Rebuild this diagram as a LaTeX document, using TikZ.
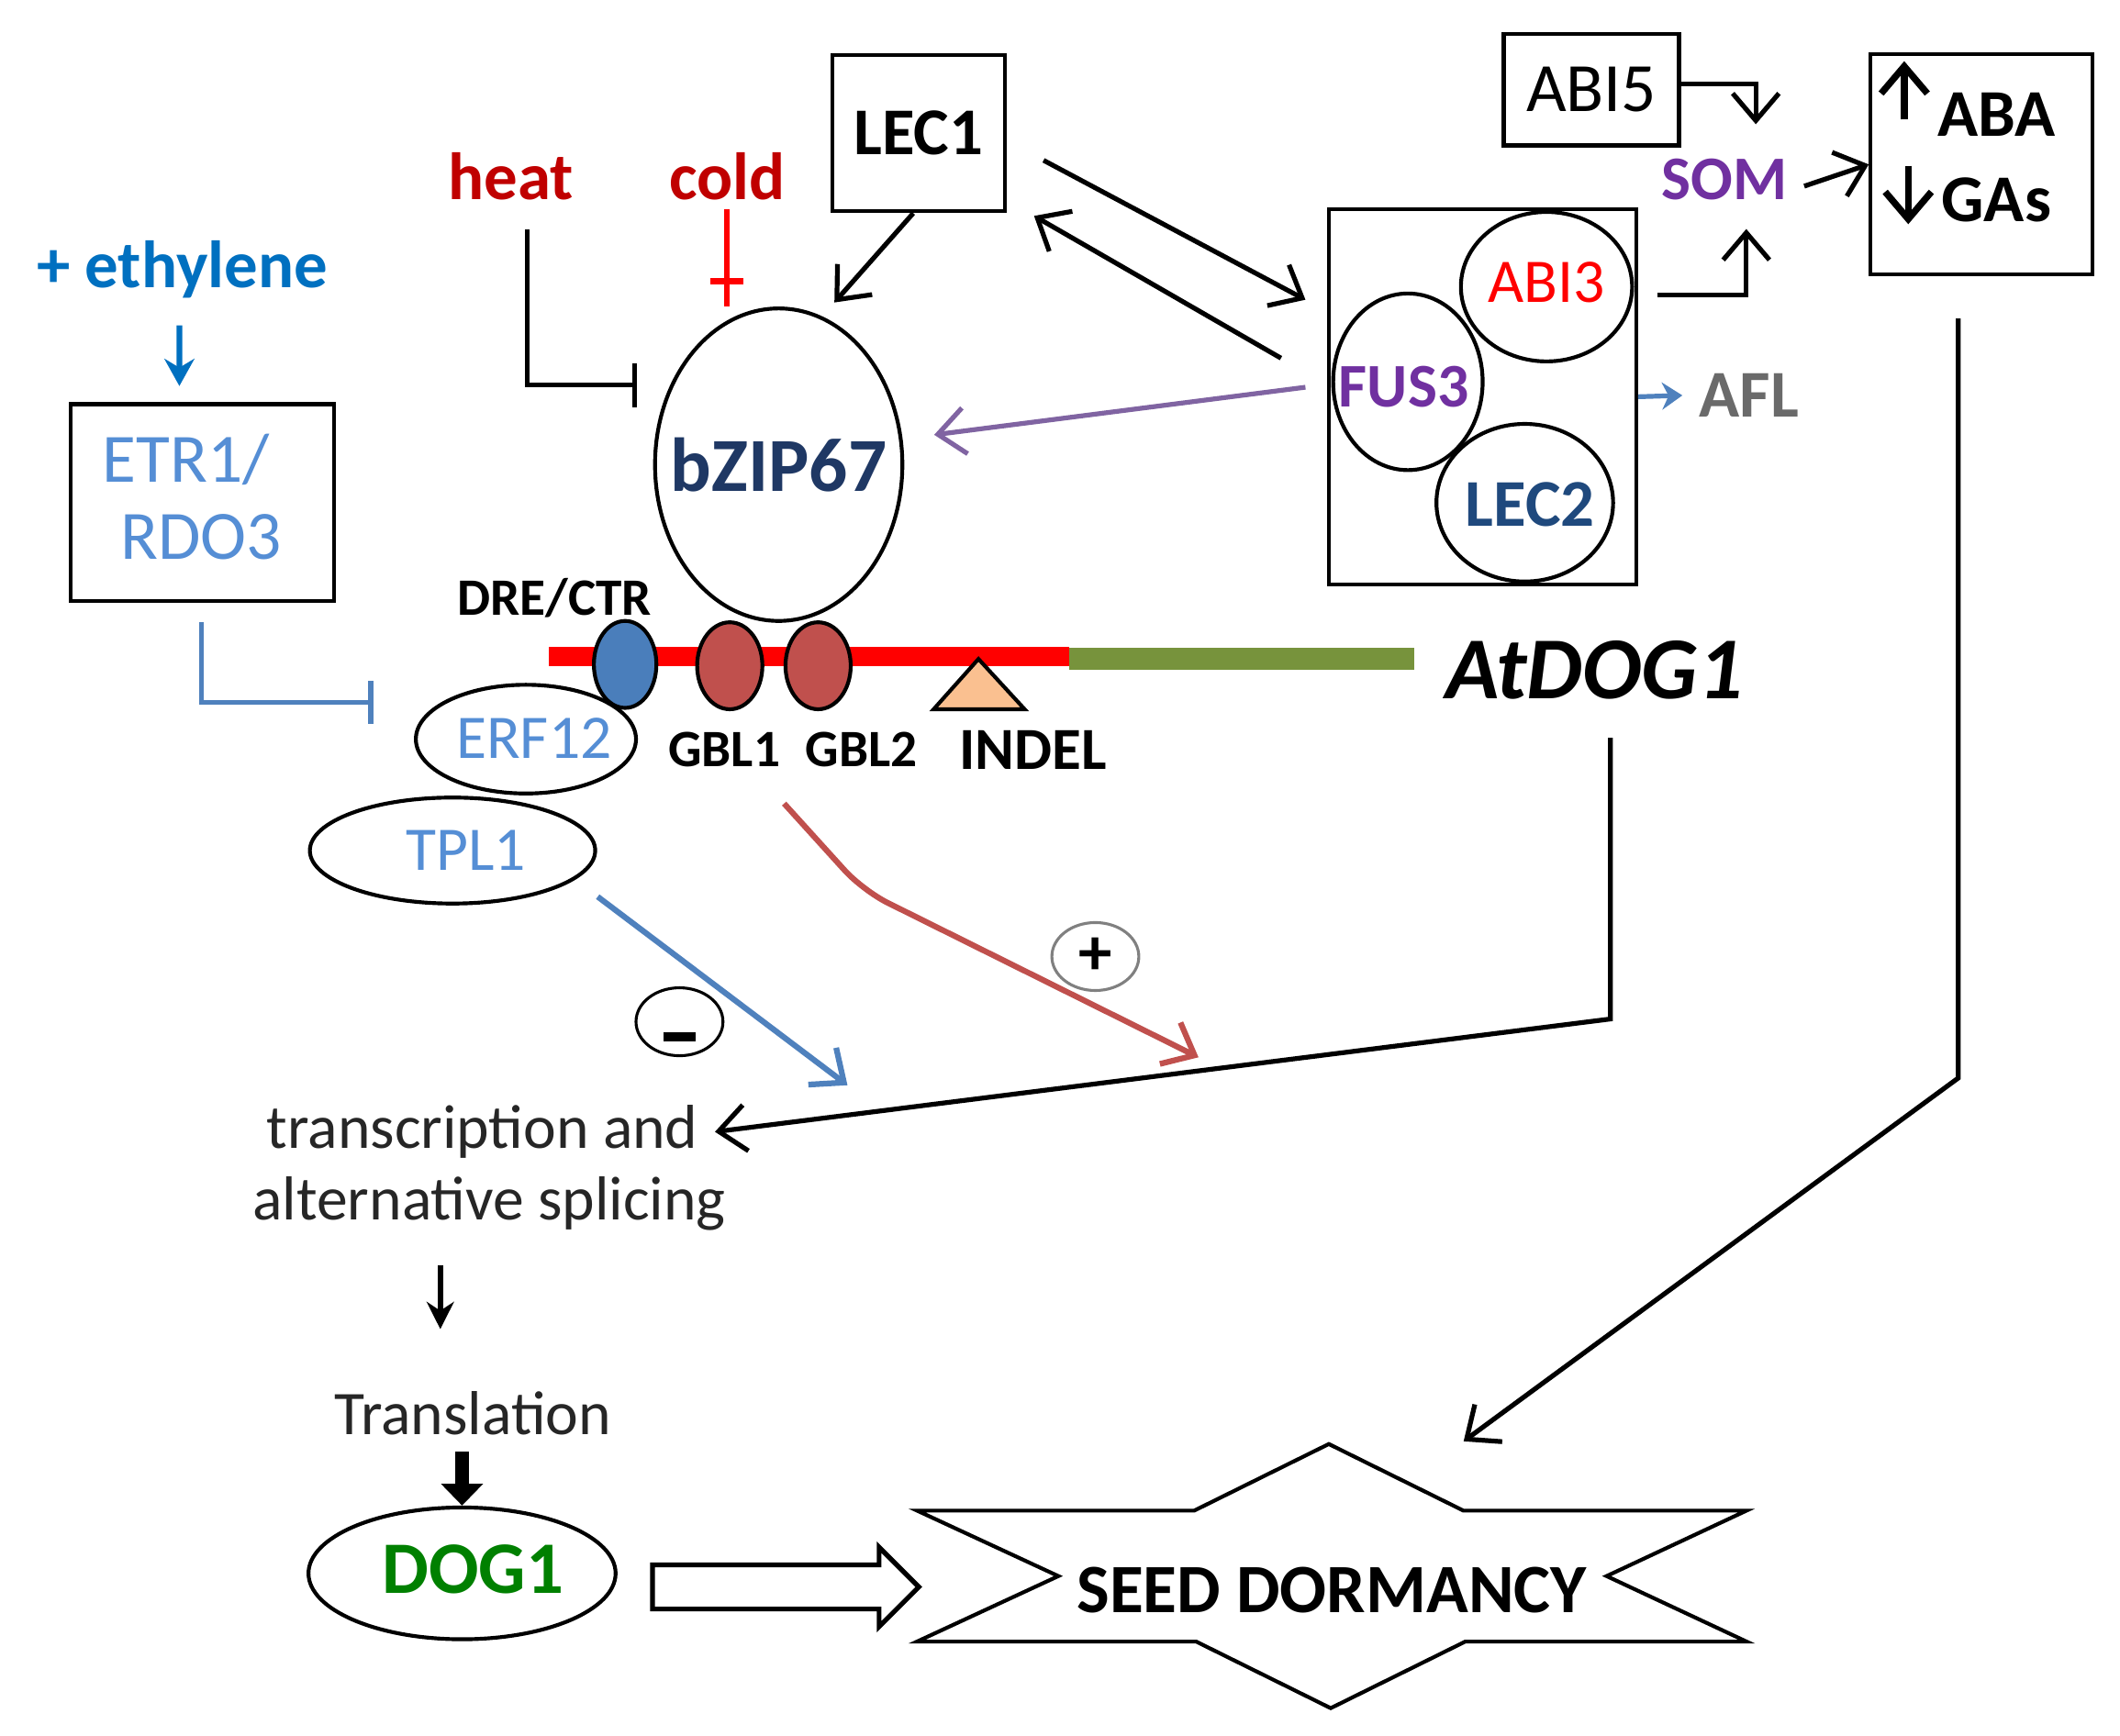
\documentclass[tikz,border=0pt]{standalone}
\usepackage{fontspec}
\setmainfont{Carlito}
\usetikzlibrary{arrows.meta,shapes.geometric,shapes.arrows}
\definecolor{ethblue}{HTML}{0070C0}
\definecolor{heatred}{HTML}{C00000}
\definecolor{lightblue}{HTML}{558ED5}
\definecolor{linkblue}{HTML}{4F81BD}
\definecolor{bzipblue}{HTML}{1F3864}
\definecolor{lecblue}{HTML}{1F497D}
\definecolor{barred}{HTML}{FF0000}
\definecolor{bargreen}{HTML}{77933C}
\definecolor{gblred}{HTML}{C0504D}
\definecolor{indelfill}{HTML}{FAC090}
\definecolor{sitblue}{HTML}{4A7EBB}
\definecolor{purplelink}{HTML}{8064A2}
\definecolor{purpletxt}{HTML}{7030A0}
\definecolor{aflgray}{HTML}{6A6A6A}
\definecolor{doggreen}{HTML}{008000}
\definecolor{txtgray}{HTML}{262626}
\newcommand\fsz[1]{\fontsize{#1}{16}\selectfont}

\begin{document}
\begin{tikzpicture}[x=0.1mm,y=-0.1mm,
            gene box/.style={draw,rectangle,line width=0.8pt,inner sep=0},
            gene oval/.style={draw,ellipse,line width=0.8pt,inner sep=0},
            site/.style={draw,ellipse,line width=0.8pt,inner sep=0,minimum width=4.8mm,minimum height=6.4mm},
            arr/.style={line width=1pt,-{Straight Barb[length=2mm,width=3.4mm]}},
            inh/.style={line width=1pt,-{Bar[width=3.2mm]}}]
            \useasboundingbox (0,0) rectangle (1560,1277.6);
            %==================
            \node[text=ethblue,font=\bfseries\fsz{14}] (eth) at (134,198) {+ ethylene};
            \node[gene box,minimum width=19.4mm,minimum height=14.5mm] (etr) at (149,370) {};
            \node[text=lightblue,font=\fsz{14.5}] (etr1lab) at (137,338) {ETR1/};
            \node[text=lightblue,font=\fsz{14.5}] (rdo3lab) at (148,395) {RDO3};
            \node[gene box,minimum width=12.7mm,minimum height=11.5mm,font=\bfseries\fsz{14}] (lec1) at (676,98) {LEC1};
            \node[text=heatred,font=\bfseries\fsz{14}] (heat) at (376,130) {heat};
            \node[text=heatred,font=\bfseries\fsz{14}] (cold) at (535,130) {cold};
            \node[gene oval,minimum width=18.2mm,minimum height=23mm] (bzip) at (573,342) {};
            \node[text=bzipblue,font=\bfseries\fsz{16}] (bziplab) at (bzip.center) {bZIP67};
            %==================
            \draw[barred,line width=4pt] (404,483) -- (787,483);
            \draw[bargreen,line width=4.5pt] (787,485) -- (1041,485);
            \node[gene oval,minimum width=16.2mm,minimum height=8mm] (erf) at (387,544) {};
            \node[text=lightblue,font=\fsz{13}] (erflab) at (393,543) {ERF12};
            \node[gene oval,minimum width=21mm,minimum height=7.8mm] (tpl) at (333,626) {};
            \node[text=lightblue,font=\fsz{13}] (tpllab) at (343,626) {TPL1};
            \node[site,fill=sitblue,minimum width=4.6mm] (dre) at (460,489) {};
            \node[site,fill=gblred] (gbl1) at (537,490) {};
            \node[site,fill=gblred] (gbl2) at (602,490) {};
            \draw[line width=0.8pt,fill=indelfill] (720,485) -- (754,522) -- (687,522) -- cycle;
            \node[font=\bfseries\fsz{11}] (drelab) at (408,440) {DRE/CTR};
            \node[font=\bfseries\fsz{11}] (gbl1lab) at (533,552) {GBL1};
            \node[font=\bfseries\fsz{11}] (gbl2lab) at (634,552) {GBL2};
            \node[font=\bfseries\fsz{12.5}] (indellab) at (760,552) {INDEL};
            \node[font=\bfseries\itshape\fsz{18.5}] (atdog) at (1173,493) {AtDOG1};
            %==================
            \node[gene box,minimum width=12.9mm,minimum height=8.2mm,font=\fsz{14.5}] (abi5) at (1171,66) {ABI5};
            \node[text=purpletxt,font=\bfseries\fsz{13}] (som) at (1269,132) {SOM};
            \node[gene box,minimum width=16.3mm,minimum height=16.2mm] (hormone) at (1458,121) {};
            \node[font=\bfseries\fsz{14}] (aba) at (1469,84) {ABA};
            \node[font=\bfseries\fsz{14}] (gas) at (1469,147) {GAs};
            \node[gene box,minimum width=22.6mm,minimum height=27.6mm] (aflbox) at (1091,292) {};
            \node[gene oval,minimum width=12.6mm,minimum height=11mm] (abi3) at (1138,211) {};
            \node[text=barred,font=\fsz{13}] (abi3lab) at (1138,208) {ABI3};
            \node[gene oval,minimum width=11mm,minimum height=13mm] (fus3) at (1036,281) {};
            \node[text=purpletxt,font=\bfseries\fsz{13}] (fus3lab) at (1033,285) {FUS3};
            \node[gene oval,minimum width=13mm,minimum height=11.6mm] (lec2) at (1122,370) {};
            \node[text=lecblue,font=\bfseries\fsz{14}] (lec2lab) at (1126,371) {LEC2};
            \node[text=aflgray,font=\bfseries\fsz{14}] (afllab) at (1287,291) {AFL};
            %==================
            \node[text=txtgray,font=\fsz{13}] (trans1) at (355,833) {transcription and};
            \node[text=txtgray,font=\fsz{13}] (trans2) at (360,886) {alternative splicing};
            \node[text=txtgray,font=\fsz{13}] (transl) at (348,1040) {Translation};
            \node[gene oval,minimum width=22.6mm,minimum height=9.7mm] (dog1) at (340,1158) {};
            \node[text=doggreen,font=\bfseries\fsz{15.5}] (dog1lab) at (348,1155) {DOG1};
            \node[single arrow,draw,line width=1pt,minimum height=19.6mm,minimum width=5.5mm,
                  single arrow head extend=1.3mm,inner xsep=0,inner ysep=1.45mm] (hollow) at (570,1168) {};
            \node[minimum width=60.9mm,minimum height=9.5mm,inner sep=0] (seed) at (980,1160) {};
            \node[font=\bfseries\fsz{14.5}] (seedtxt) at ([yshift=-1mm]seed.center) {SEED DORMANCY};
            \node[draw,ellipse,line width=0.6pt,minimum width=6.4mm,minimum height=5mm,inner sep=0] (minus) at (500,752) {};
            \node[draw=gray,ellipse,line width=0.6pt,minimum width=6.4mm,minimum height=5mm,inner sep=0,
                  font=\bfseries\fsz{14}] (plus) at (806,704) {+};
            \draw[line width=2pt] ([shift={(-1.2mm,-1.1mm)}]minus.center) -- ([shift={(1.2mm,-1.1mm)}]minus.center);
            %==================
            \draw[line width=0.8pt,line join=miter] (seed.north west) -- ++(204,0) -- ++(99,-49) -- ++(99,49)
                -- (seed.north east) -- ([xshift=-10.3mm]seed.east) -- (seed.south east) -- ++(-207,0)
                -- ++(-99,49) -- ++(-99,-49) -- (seed.south west) -- ([xshift=10.4mm]seed.west) -- cycle;
            % ===================
            \draw[line width=1.2pt,ethblue,-{Stealth[length=2mm,width=2.2mm]}] ([shift={(-0.2mm,-0.8mm)}]eth.south) -- ([shift={(-1.7mm,1.2mm)}]etr.north);
            \draw[inh,linkblue] ([shift={(-0.1mm,-1.4mm)}]etr.south) |- ([shift={(-3mm,2.7mm)}]erf.west);
            \draw[inh] ([shift={(1.2mm,-0.9mm)}]heat.south) |- ([shift={(-2mm,1mm)}]bzip.150);
            \draw[barred,line width=1.2pt] ([yshift=0.6mm]cold.south) -- coordinate[pos=0.74] (coldbar) (cold.south |- bzip.north);
            \draw[barred,line width=1.2pt] ([xshift=-1.2mm]coldbar) -- ([xshift=1.2mm]coldbar);
            \draw[arr] ([xshift=-0.4mm]lec1.south) -- ([shift={(4.1mm,0.3mm)}]bzip.north);
            \draw[arr] ([shift={(2.7mm,-2mm)}]lec1.east) -- ([shift={(-1.6mm,-6.8mm)}]aflbox.north west);
            \draw[arr] ([shift={(-3.4mm,-11.1mm)}]aflbox.north west) -- ([shift={(2mm,-0.2mm)}]lec1.south east);
            \draw[arr,purplelink] ([shift={(-1.6mm,0.7mm)}]aflbox.west) -- ([shift={(2.2mm,2.2mm)}]bzip.east);
            % ===================
            \draw[arr] ([yshift=0.4mm]abi5.east) -| ([shift={(2.3mm,1.3mm)}]som.north);
            \draw[arr] ([shift={(1.7mm,-0.6mm)}]abi3.east) -| ([shift={(1.6mm,-0.9mm)}]som.south);
            \draw[arr] ([yshift=-0.5mm]som.east) -- (hormone.west);
            \draw[arr,line width=1.4pt] ([shift={(-1.2mm,-0.4mm)}]aba.west) -- ++(0,-43);
            \draw[arr,line width=1.4pt] ([shift={(-1.2mm,2.5mm)}]gas.west) -- ++(0,43);
            \draw[line width=1pt,linkblue,-{Stealth[length=1.5mm,width=2mm]}] (aflbox.east) -- (afllab.west);
            % ===================
            \draw[arr] ([shift={(1.2mm,-1.6mm)}]atdog.south) -- ++(0,207)
                -- coordinate[pos=0.46] (plustip) coordinate[pos=0.852] (minustip) (trans1.east);
            \draw[arr,linkblue,line width=1.2pt] ([shift={(3mm,-0.6mm)}]tpl.-20) -- ([yshift=2.2mm]minustip);
            \draw[arr,gblred,line width=1.2pt,rounded corners=2mm] ([shift={(4mm,-6.8mm)}]gbl1.south) -- ++(58,64) -- ([yshift=1mm]plustip);
            \draw[arr] ([shift={(-1.7mm,-3.1mm)}]hormone.south) -- ++(0,559) -- ([shift={(9.7mm,5.1mm)}]seed.north);
            \draw[line width=1.2pt,-{Stealth[length=2mm,width=2mm]}] ([shift={(-3.6mm,-1.3mm)}]trans2.south) -- ++(0,47);
            \draw[line width=3pt,-{Triangle[length=1.6mm,width=3mm]}] (transl.south -| dog1.north) -- (dog1.north);
        \end{tikzpicture}
\end{document}
